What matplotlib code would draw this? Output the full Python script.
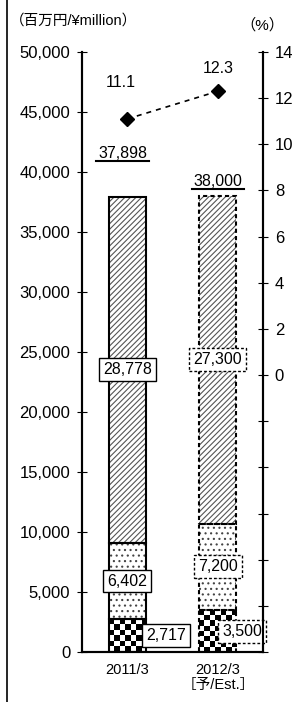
import numpy as np
import matplotlib.pyplot as plt
from matplotlib.ticker import FuncFormatter

plt.rcParams['font.family'] = ['Liberation Sans', 'Noto Sans CJK JP', 'DejaVu Sans']
plt.rcParams['hatch.linewidth'] = 0.8

# datos
periodos = ['2011/3', '2012/3\n［予/Est.］']
inferior = [2717, 3500]      # cuadros
medio = [6402, 7200]         # puntos
superior = [28778, 27300]    # rayas
totales = ['37,898', '38,000']
pct = [11.1, 12.3]

fig = plt.figure(figsize=(2.92, 7.02), dpi=100)
ax = fig.add_axes([0.2808, 0.0712, 0.6199, 0.8547])
ax2 = ax.twinx()

x = np.arange(len(periodos))
w = 0.41
bordes = ['solid', (0, (2, 1.5))]

for i in x:
    ls = bordes[i]
    b0 = 0
    b1 = inferior[i]
    b2 = inferior[i] + medio[i]
    # cuadros tipo tablero
    p = ax.bar(i, inferior[i], w, bottom=b0, color='white', edgecolor='none', zorder=2)[0]
    ncol = 7
    nfil = max(1, int(round(inferior[i] / 450)))
    tablero = np.indices((nfil, ncol)).sum(axis=0) % 2
    im = ax.imshow(tablero, cmap='gray', interpolation='nearest', aspect='auto',
                   extent=[i - w / 2, i + w / 2, b0, b1], zorder=2.1)
    im.set_clip_path(p)
    ax.bar(i, medio[i], w, bottom=b1, color='white', edgecolor='#444444', linewidth=0,
           hatch='...', zorder=2)
    ax.bar(i, superior[i], w, bottom=b2, color='white', edgecolor='#555555', linewidth=0,
           hatch='//////', zorder=2)
    # contornos
    for base, alto in [(b0, inferior[i]), (b1, medio[i]), (b2, superior[i])]:
        ax.bar(i, alto, w, bottom=base, fill=False, edgecolor='black', linewidth=1.5,
               linestyle=ls, zorder=3)

    caja = dict(boxstyle='square,pad=0.25', fc='white', ec='black', lw=1, ls=ls)
    ax.text(i, b2 + superior[i] / 2, f'{superior[i]:,}', ha='center', va='center',
            fontsize=11.5, bbox=caja, zorder=5)
    ax.text(i, b1 + medio[i] / 2, f'{medio[i]:,}', ha='center', va='center',
            fontsize=11.5, bbox=caja, zorder=5)
    ax.text(i + (0.43 if i == 0 else 0.27), inferior[i] / 2,
            f'{inferior[i]:,}', ha='center', va='center', fontsize=11.5, bbox=caja, zorder=5)

# totales subrayados
pos_tot = [41580, 39250]
cx_tot = [-0.05, 1.0]
for i in x:
    ax.text(cx_tot[i], pos_tot[i], totales[i], ha='center', va='center',
            fontsize=11.5, zorder=5)
    ax.plot([cx_tot[i] - 0.29, cx_tot[i] + 0.29],
            [pos_tot[i] - 650] * 2, color='black', lw=1.5, zorder=5)

ax.set_xlim(-0.5, 1.5)
ax.set_ylim(0, 50000)
ax.set_yticks(np.arange(0, 50001, 5000))
ax.yaxis.set_major_formatter(FuncFormatter(lambda v, p: f'{int(v):,}'))
ax.set_xticks(x)
ax.set_xticklabels(periodos, fontsize=10.5, linespacing=1.1)
ax.tick_params(axis='x', length=0, pad=8)
ax.tick_params(axis='y', direction='inout', length=7, labelsize=12, pad=5)

ax2.plot(x, pct, color='black', linestyle=(0, (3, 3)), lw=1.2, marker='D',
         markersize=7, zorder=4)
pos_pct = [12.66, 13.3]
for i in x:
    ax2.text(i - 0.07 * (1 - i), pos_pct[i], f'{pct[i]:.1f}', ha='center', va='center',
             fontsize=11.5)
ax2.set_ylim(-12, 14)
ax2.set_yticks(np.arange(-12, 15, 2))
ax2.yaxis.set_major_formatter(FuncFormatter(lambda v, p: f'{int(v)}' if v >= 0 else ''))
ax2.tick_params(axis='y', direction='inout', length=7, labelsize=12, pad=5)

for a in (ax, ax2):
    for s in a.spines.values():
        s.set_linewidth(1.5)
ax.spines['top'].set_visible(False)
ax2.spines['top'].set_visible(False)

fig.text(0.035, 0.97, '（百万円/¥million）', fontsize=10.5, ha='left', va='center')
fig.text(0.90, 0.964, '（%）', fontsize=11, ha='center', va='center')
fig.add_artist(plt.Line2D([0.024, 0.024], [0, 1], color='black', lw=1.2))

fig.savefig('out.png', dpi=100)
